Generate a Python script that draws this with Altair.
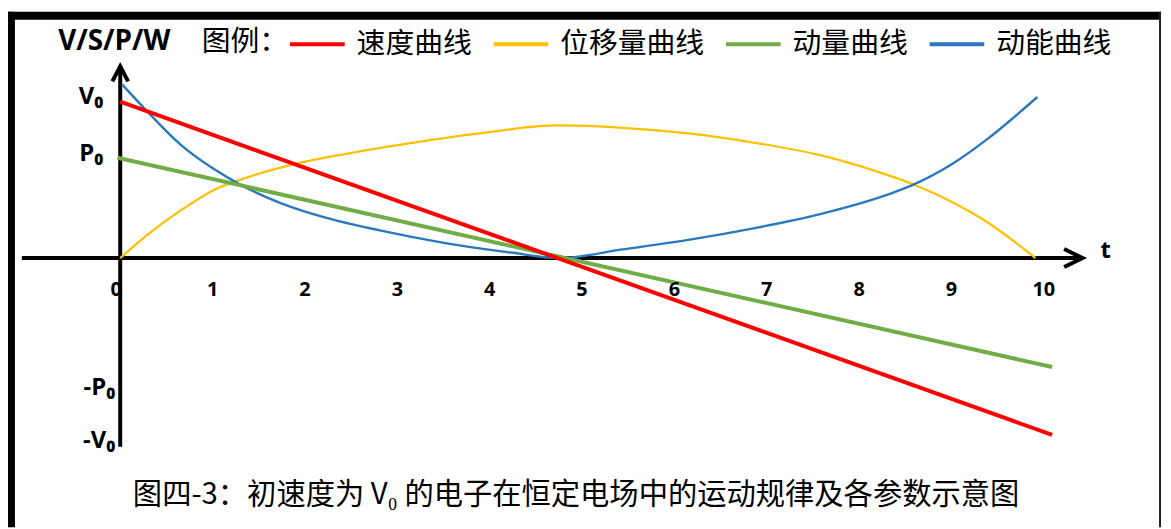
import altair as alt
import pandas as pd

# ---------------- data ----------------
series_names = ["速度曲线", "位移量曲线", "动量曲线", "动能曲线"]
series_colors = ["#FF0000", "#FFC000", "#70AD47", "#2A78BE"]

speed_t = [0.0, 10.09]
speed_v = [0.99, -1.12]

disp_t = [0.0, 0.29, 0.65, 1.01, 1.37, 1.92, 2.44, 3.16, 3.89, 4.74,
          5.44, 6.15, 6.87, 7.59, 8.13, 8.57, 9.02, 9.38, 9.91]
disp_s = [0.0, 0.145, 0.30, 0.43, 0.51, 0.60, 0.66, 0.73, 0.79, 0.84,
          0.825, 0.79, 0.73, 0.65, 0.56, 0.47, 0.35, 0.23, 0.0]

mom_t = [-0.03, 10.09]
mom_p = [0.635, -0.69]

ke_t = [0.02, 0.29, 0.65, 1.01, 1.30, 1.73, 2.08, 2.81, 3.52, 4.23, 4.76,
        5.44, 6.15, 6.87, 7.59, 8.30, 8.57, 9.02, 9.38, 9.93]
ke_w = [1.10, 0.93, 0.72, 0.565, 0.465, 0.35, 0.28, 0.175, 0.095, 0.035, 0.0,
        0.055, 0.115, 0.19, 0.28, 0.40, 0.46, 0.60, 0.75, 1.02]

x_tick_values = list(range(11))
x_tick_labels = [str(v) for v in x_tick_values]
y_tick_values = [1.02, 0.66, -0.82, -1.16]
y_tick_labels = ["V₀", "P₀", "-P₀", "-V₀"]

y_axis_title = "V/S/P/W"
x_axis_title = "t"
legend_title = "图例："
caption = "图四-3：初速度为 V₀ 的电子在恒定电场中的运动规律及各参数示意图"

# axis extents (data units)
x_axis_from, x_axis_to = -1.065, 10.42
y_axis_from, y_axis_to = -1.195, 1.214

# ---------------- tables ----------------
def series_frame(name, ts, vals):
    return pd.DataFrame({"series": name, "t": ts, "y": vals, "i": list(range(len(ts)))})

speed_df = series_frame(series_names[0], speed_t, speed_v)
disp_df = series_frame(series_names[1], disp_t, disp_s)
mom_df = series_frame(series_names[2], mom_t, mom_p)
ke_df = series_frame(series_names[3], ke_t, ke_w)

axes = pd.DataFrame([
    {"id": "x", "t": x_axis_from, "y": 0.0, "i": 0},
    {"id": "x", "t": x_axis_to, "y": 0.0, "i": 1},
    {"id": "y", "t": 0.0, "y": y_axis_from, "i": 0},
    {"id": "y", "t": 0.0, "y": y_axis_to, "i": 1},
])
arrows = pd.DataFrame([
    {"id": "x", "t": x_axis_to - 0.2, "y": 0.057, "i": 0},
    {"id": "x", "t": x_axis_to, "y": 0.0, "i": 1},
    {"id": "x", "t": x_axis_to - 0.2, "y": -0.057, "i": 2},
    {"id": "y", "t": -0.085, "y": y_axis_to - 0.095, "i": 0},
    {"id": "y", "t": 0.0, "y": y_axis_to, "i": 1},
    {"id": "y", "t": 0.085, "y": y_axis_to - 0.095, "i": 2},
])
xticks = pd.DataFrame({"t": x_tick_values, "y": [0.0] * len(x_tick_values), "label": x_tick_labels})
yticks = pd.DataFrame({"t": [0.0] * len(y_tick_values), "y": y_tick_values, "label": y_tick_labels})
tlab = pd.DataFrame({"t": [x_axis_to], "y": [0.0], "label": [x_axis_title]})

# ---------------- layout ----------------
W, H = 1163, 521
px_per_t = 93.0
px_per_y = 159.0
x0_px, y0_px = 113.0, 250.0  # origin inside the plot area
x_dom = [-x0_px / px_per_t, (W - x0_px) / px_per_t]
y_dom = [-(H - y0_px) / px_per_y, y0_px / px_per_y]

xs = alt.Scale(domain=x_dom, nice=False, zero=False)
ys = alt.Scale(domain=y_dom, nice=False, zero=False)
X = alt.X("t:Q", scale=xs, axis=None)
Y = alt.Y("y:Q", scale=ys, axis=None)

LATIN = "Open Sans"
CJK = "Noto Sans CJK SC"

legend = alt.Legend(
    orient="none", legendX=282, legendY=5, direction="horizontal", padding=0,
    title=None,
    labelFont=CJK, labelFontSize=29, labelColor="black", labelLimit=400,
    labelOffset=10, columnPadding=13, symbolType="stroke", symbolSize=3025,
    symbolStrokeWidth=4,
)
color = alt.Color("series:N", scale=alt.Scale(domain=series_names, range=series_colors), legend=legend)


def curve(df, width, interp):
    return alt.Chart(df).mark_line(interpolate=interp, strokeWidth=width, strokeCap="butt").encode(
        x=X, y=Y, order="i:Q", color=color
    )

disp_line = curve(disp_df, 2.2, "monotone")
ke_line = curve(ke_df, 2.4, "monotone")
mom_line = curve(mom_df, 4.0, "linear")
speed_line = curve(speed_df, 4.0, "linear")

axis_lines = alt.Chart(axes).mark_line(color="black", strokeWidth=4, strokeCap="butt").encode(
    x=X, y=Y, detail="id:N", order="i:Q"
)
arrow_heads = alt.Chart(arrows).mark_line(color="black", strokeWidth=4, strokeJoin="miter").encode(
    x=X, y=Y, detail="id:N", order="i:Q"
)

xtick_text = alt.Chart(xticks).transform_filter("datum.t != 0").mark_text(
    font=LATIN, fontSize=20, fontWeight="bold", color="black", baseline="middle", dy=32
).encode(x=X, y=Y, text="label:N")
xtick_zero = alt.Chart(xticks).transform_filter("datum.t == 0").mark_text(
    font=LATIN, fontSize=20, fontWeight="bold", color="black", baseline="middle", dy=32, dx=-4
).encode(x=X, y=Y, text="label:N")

ytick_pos = alt.Chart(yticks).transform_filter("datum.y > 0").mark_text(
    font=LATIN, fontSize=24, fontWeight="bold", color="black", baseline="middle", align="right", dx=-17
).encode(x=X, y=Y, text="label:N")
ytick_neg = alt.Chart(yticks).transform_filter("datum.y < 0").mark_text(
    font=LATIN, fontSize=24, fontWeight="bold", color="black", baseline="middle", align="right", dx=-5
).encode(x=X, y=Y, text="label:N")

t_label = alt.Chart(tlab).mark_text(
    font=LATIN, fontSize=24, fontWeight="bold", color="black", align="left", baseline="middle", dx=18, dy=-7
).encode(x=X, y=Y, text="label:N")

ytitle = alt.Chart(pd.DataFrame({"label": [y_axis_title]})).mark_text(
    font=LATIN, fontSize=28, fontWeight="bold", color="black", align="center", baseline="middle"
).encode(x=alt.value(107), y=alt.value(32), text="label:N")

legend_title_text = alt.Chart(pd.DataFrame({"label": [legend_title]})).mark_text(
    font=CJK, fontSize=29, color="black", align="left", baseline="middle"
).encode(x=alt.value(195), y=alt.value(32), text="label:N")

caption_text = alt.Chart(pd.DataFrame({"label": [caption]})).mark_text(
    font=CJK, fontSize=29.5, color="black", align="center", baseline="middle"
).encode(x=alt.value(572), y=alt.value(489), text="label:N")

# picture frame (thick left/top, thin right)
frame_left = alt.Chart(pd.DataFrame({"k": [0]})).mark_rule(color="black", strokeWidth=8).encode(
    x=alt.value(3), y=alt.value(2), y2=alt.value(H))
frame_top = alt.Chart(pd.DataFrame({"k": [0]})).mark_rule(color="black", strokeWidth=8).encode(
    x=alt.value(-1), x2=alt.value(1161), y=alt.value(6))
frame_right = alt.Chart(pd.DataFrame({"k": [0]})).mark_rule(color="#222222", strokeWidth=2).encode(
    x=alt.value(1160), y=alt.value(2), y2=alt.value(H))

chart = alt.layer(
    frame_left, frame_top, frame_right,
    axis_lines, arrow_heads,
    disp_line, ke_line, mom_line, speed_line,
    xtick_text, xtick_zero, ytick_pos, ytick_neg, t_label, ytitle, legend_title_text, caption_text,
).properties(
    width=W, height=H, autosize=alt.AutoSizeParams(type="none"), padding=0,
    background="white",
).configure_view(stroke=None)

chart.save("out.html", embed_options={"renderer": "svg", "actions": False})
